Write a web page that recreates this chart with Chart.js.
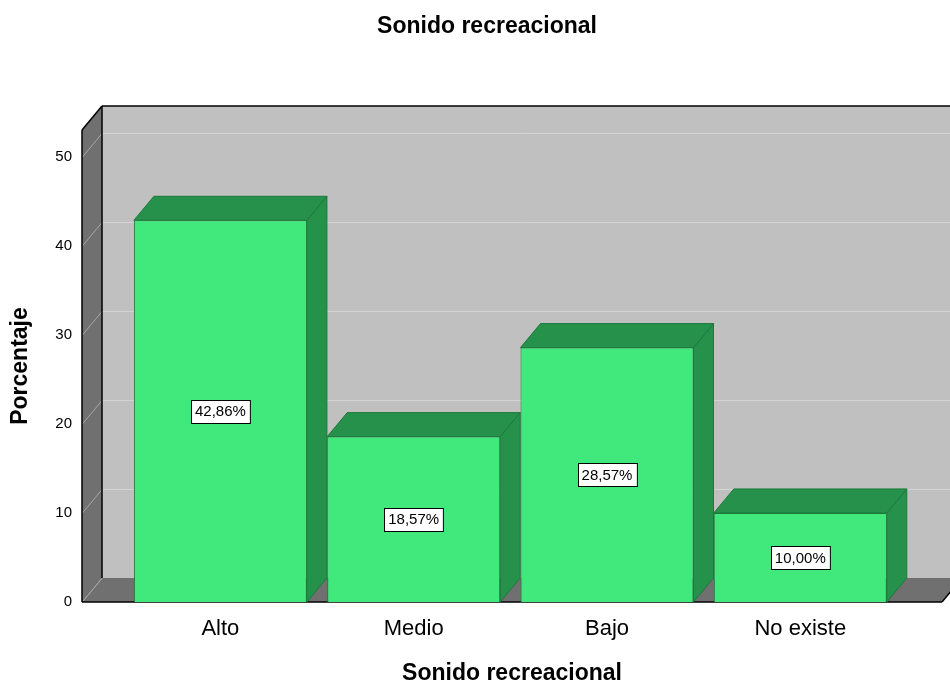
<!DOCTYPE html>
<html>
<head>
<meta charset="utf-8">
<title>Sonido recreacional</title>
<script src="https://cdn.jsdelivr.net/npm/chart.js@4.4.0/dist/chart.umd.min.js"></script>
<style>
  html, body { margin: 0; padding: 0; background: #fff; }
  #wrap { width: 950px; height: 685px; }
</style>
</head>
<body>
<div id="wrap"><canvas id="soundChart"></canvas></div>
<script>
const categories = ["Alto", "Medio", "Bajo", "No existe"];
const percentages = [42.86, 18.57, 28.57, 10.00];
const yTicks = [0, 10, 20, 30, 40, 50];
const yMax = 53;
// front floor extent, in category units
const xMin = -0.716;
const xMax = 3.733;

const chartTitle = "Sonido recreacional";
const xTitle = "Sonido recreacional";
const yTitle = "Porcentaje";

// depth of the 3D box (px)
const DEPTH_X = 20;
const DEPTH_Y = 24;

const FONT = "Arial, 'Liberation Sans', sans-serif";

const colors = {
    barFront: "#41e87c",
    barShade: "#25914a",
    barEdge: "#1c7a3c",
    wall: "#c0c0c0",
    floor: "#707070",
    grid: "#d4d4d4",
    sideGrid: "#a6a6a6",
    edge: "#000000"
};

function poly(ctx, pts) {
    ctx.beginPath();
    ctx.moveTo(pts[0][0], pts[0][1]);
    for (let i = 1; i < pts.length; i++) ctx.lineTo(pts[i][0], pts[i][1]);
    ctx.closePath();
}

function line(ctx, x1, y1, x2, y2) {
    ctx.beginPath();
    ctx.moveTo(x1, y1);
    ctx.lineTo(x2, y2);
    ctx.stroke();
}

function fmtPct(v) {
    return v.toFixed(2).replace(".", ",") + "%";
}

// walls, floor and the shaded faces of each bar
const box3d = {
    id: "box3d",
    beforeDatasetsDraw(chart) {
        const { ctx, chartArea: a, scales: { y } } = chart;
        const L = a.left, R = a.right, T = a.top, B = a.bottom;
        const dx = DEPTH_X, dy = DEPTH_Y;
        ctx.save();

        // back wall
        ctx.fillStyle = colors.wall;
        ctx.fillRect(L + dx, T - dy, R - L, B - T);

        // side wall + floor
        ctx.fillStyle = colors.floor;
        poly(ctx, [[L, T], [L + dx, T - dy], [L + dx, B - dy], [L, B]]);
        ctx.fill();
        poly(ctx, [[L, B], [L + dx, B - dy], [R + dx, B - dy], [R, B]]);
        ctx.fill();

        // grid lines
        ctx.lineWidth = 1;
        yTicks.forEach(v => {
            const py = Math.round(y.getPixelForValue(v)) + 0.5;
            if (v > 0) {
                ctx.strokeStyle = colors.grid;
                line(ctx, L + dx, py - dy, R + dx, py - dy);
            }
            ctx.strokeStyle = colors.sideGrid;
            line(ctx, L, py, L + dx, py - dy);
        });

        // outlines
        ctx.strokeStyle = colors.edge;
        ctx.lineWidth = 1.5;
        line(ctx, L + dx, T - dy, R + dx, T - dy);
        line(ctx, L + dx, T - dy, L + dx, B - dy);
        line(ctx, L, T, L + dx, T - dy);
        line(ctx, L, T, L, B);
        line(ctx, L, B, R, B);
        line(ctx, R, B, R + dx, B - dy);

        // bar top and side faces
        const meta = chart.getDatasetMeta(0);
        meta.data.forEach(bar => {
            const { x, y: top, base, width } = bar.getProps(["x", "y", "base", "width"], true);
            const l = x - width / 2, r = x + width / 2;
            ctx.fillStyle = colors.barShade;
            ctx.strokeStyle = colors.barEdge;
            ctx.lineWidth = 1;
            poly(ctx, [[r, top], [r + dx, top - dy], [r + dx, base - dy], [r, base]]);
            ctx.fill();
            ctx.stroke();
            poly(ctx, [[l, top], [l + dx, top - dy], [r + dx, top - dy], [r, top]]);
            ctx.fill();
            ctx.stroke();
        });
        ctx.restore();
    },
    afterDatasetsDraw(chart) {
        const { ctx } = chart;
        const meta = chart.getDatasetMeta(0);
        ctx.save();
        ctx.font = "15px " + FONT;
        ctx.textAlign = "center";
        ctx.textBaseline = "middle";
        meta.data.forEach((bar, i) => {
            const { x, y: top, base } = bar.getProps(["x", "y", "base"], true);
            const txt = fmtPct(percentages[i]);
            const w = ctx.measureText(txt).width + 8;
            const h = 23;
            const cy = (top + base) / 2;
            const bx = Math.round(x - w / 2) + 0.5, by = Math.round(cy - h / 2) + 0.5;
            ctx.fillStyle = "#ffffff";
            ctx.fillRect(bx, by, w, h);
            ctx.strokeStyle = "#000000";
            ctx.lineWidth = 1;
            ctx.strokeRect(bx, by, w, h);
            ctx.fillStyle = "#000000";
            ctx.fillText(txt, x, cy + 1);
        });
        ctx.restore();
    }
};

// main heading, a bit left of the plot centre
const heading = {
    id: "heading",
    afterDraw(chart) {
        const { ctx, chartArea: a } = chart;
        ctx.save();
        ctx.font = "bold 23px " + FONT;
        ctx.fillStyle = "#000";
        ctx.textAlign = "center";
        ctx.textBaseline = "alphabetic";
        ctx.fillText(chartTitle, (a.left + a.right) / 2 - 25, 33);
        ctx.restore();
    }
};

new Chart(document.getElementById("soundChart"), {
    type: "bar",
    data: {
        datasets: [{
            label: "Porcentaje",
            data: percentages.map((v, i) => ({ x: i, y: v })),
            backgroundColor: colors.barFront,
            borderColor: colors.barEdge,
            borderWidth: 1,
            categoryPercentage: 1,
            barPercentage: 0.895
        }]
    },
    options: {
        responsive: true,
        maintainAspectRatio: false,
        animation: false,
        layout: { padding: { top: 130, right: 8, left: 0, bottom: 0 } },
        plugins: {
            legend: { display: false },
            tooltip: { enabled: false },
            title: { display: false }
        },
        scales: {
            x: {
                type: "linear",
                min: xMin,
                max: xMax,
                offset: false,
                grid: { display: false, drawTicks: false },
                border: { display: false },
                afterBuildTicks: s => { s.ticks = categories.map((c, i) => ({ value: i })); },
                ticks: {
                    callback: v => categories[v],
                    font: { family: FONT, size: 22 },
                    color: "#000",
                    padding: 14,
                    maxRotation: 0,
                    autoSkip: false
                },
                title: {
                    display: true,
                    text: xTitle,
                    color: "#000",
                    font: { family: FONT, size: 23, weight: "bold", lineHeight: 1 },
                    padding: 0
                },
                afterFit: s => { s.height = 83; }
            },
            y: {
                min: 0,
                max: yMax,
                grid: { display: false, drawTicks: false },
                border: { display: false },
                afterBuildTicks: s => { s.ticks = yTicks.map(v => ({ value: v })); },
                ticks: {
                    font: { family: FONT, size: 15 },
                    color: "#000",
                    padding: 10
                },
                title: {
                    display: true,
                    text: yTitle,
                    color: "#000",
                    font: { family: FONT, size: 23, weight: "bold", lineHeight: 1 },
                    padding: { top: 9, bottom: 0 }
                },
                afterFit: s => { s.width = 82; }
            }
        }
    },
    plugins: [box3d, heading]
});
</script>
</body>
</html>
